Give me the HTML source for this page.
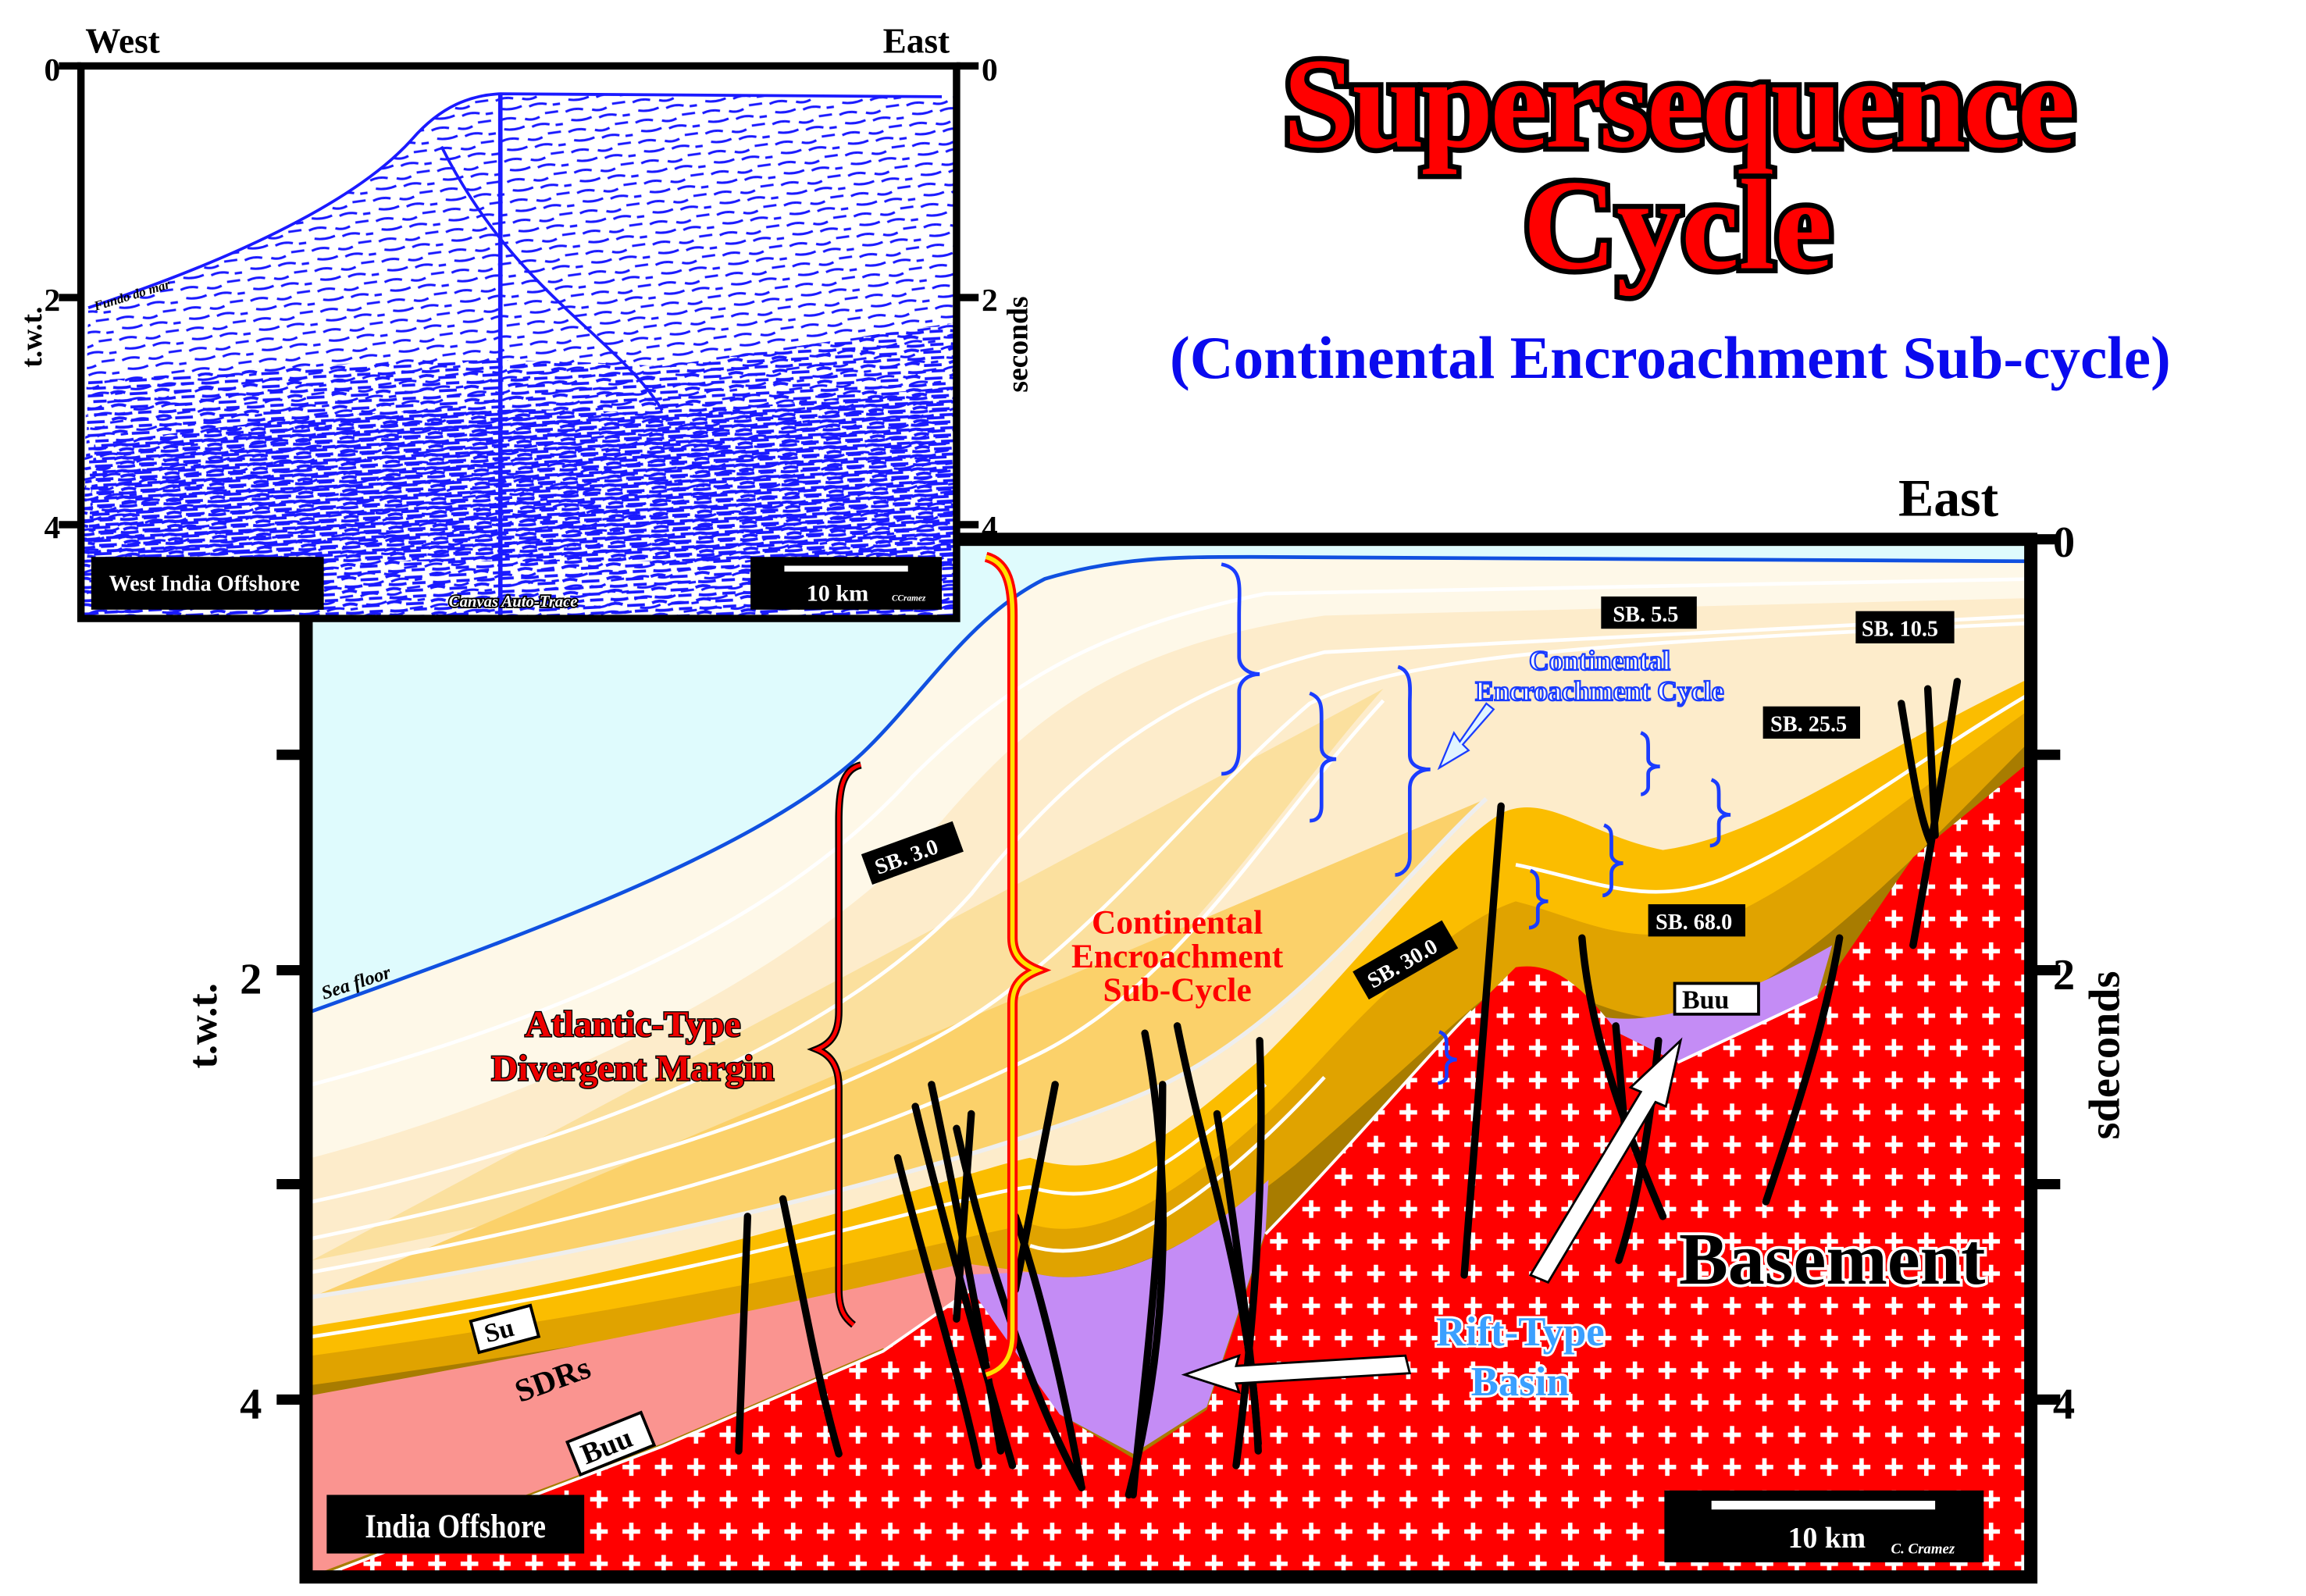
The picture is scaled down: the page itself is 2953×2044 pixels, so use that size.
<!DOCTYPE html>
<html><head><meta charset="utf-8"><style>
html,body{margin:0;padding:0;background:#fff;width:2953px;height:2044px;overflow:hidden}
svg{display:block}
text{font-family:"Liberation Serif",serif;font-weight:bold}
</style></head><body>
<svg width="2953" height="2044" viewBox="0 0 1567 1089" preserveAspectRatio="none" xmlns="http://www.w3.org/2000/svg">
<defs>
<pattern id="cross" width="22" height="22" patternUnits="userSpaceOnUse">
<rect width="22" height="22" fill="#f00"/>
<path d="M11,5 V17 M5,11 H17" stroke="#fff" stroke-width="3"/>
</pattern>
<pattern id="seis" width="46" height="14" patternUnits="userSpaceOnUse" patternTransform="rotate(-8)">
<path d="M2,3 q6,-2 12,0 M20,4 q5,2 10,0 M34,2 h9 M5,9 q7,2 14,0 M24,10 q6,-2 12,0 M40,11 h5" stroke="#1a1aff" stroke-width="1.6" fill="none"/>
</pattern>
<pattern id="seis2" width="30" height="9" patternUnits="userSpaceOnUse" patternTransform="rotate(-3)">
<path d="M1,2 q5,-2 10,0 M14,3 h12 M3,7 q6,1 12,0 M19,7 h9" stroke="#1a1aff" stroke-width="2" fill="none"/>
</pattern>
</defs>

<g text-anchor="middle">
<text x="1140" y="100" font-size="88" fill="#f00" stroke="#000" stroke-width="7" paint-order="stroke" style="letter-spacing:-2px">Supersequence</text>
<text x="1140" y="183" font-size="88" fill="#f00" stroke="#000" stroke-width="7" paint-order="stroke">Cycle</text>
<text x="1135" y="258" font-size="41" fill="#0a0aee">(Continental Encroachment Sub-cycle)</text>
</g>

<g>
<rect x="208" y="368" width="1172" height="708" fill="#dffbfd"/>
<clipPath id="mc"><rect x="208" y="368" width="1172" height="708"/></clipPath>
<g clip-path="url(#mc)">
<path d="M212,690 C350,640 520,580 590,510 C630,470 660,420 710,395 C760,380 800,380 850,380 L1385,383 L1385,1080 L205,1080 Z" fill="#fef8e8"/>
<path d="M212,790 C400,740 560,650 640,560 C700,490 760,440 900,420 L1385,408 L1385,1080 L205,1080 Z" fill="#fdeccb"/>
<path d="M212,860 C450,815 600,765 700,715 C800,670 860,560 940,470 C1000,440 1100,428 L1385,412 L1385,1080 L205,1080 Z" fill="#fbe09e"/>
<path d="M212,885 C500,840 700,780 780,745 C880,700 950,600 1010,545 C1040,530 1150,515 L1385,470 L1385,1080 L205,1080 Z" fill="#fbd16a"/>
<path d="M212,905 C500,860 650,800 700,790 C760,810 800,770 860,720 C930,650 980,580 1020,555 C1050,540 1080,570 1130,580 C1200,570 1260,520 1385,460 L1385,1080 L205,1080 Z" fill="#fbbd00"/>
<path d="M212,925 C500,885 650,845 700,835 C760,855 840,785 900,720 C960,655 1000,625 1030,615 C1070,625 1100,645 1150,635 C1220,612 1300,540 1385,480 L1385,1080 L205,1080 Z" fill="#e0a300"/>
<path d="M212,945 C500,905 650,870 700,868 C760,885 830,835 880,795 C960,725 1000,685 1030,665 C1070,675 1100,700 1150,695 C1230,665 1320,565 1385,500 L1385,1080 L205,1080 Z" fill="#a87c00"/>
<g fill="none" stroke="#fff" stroke-width="2.5">
<path d="M212,740 C400,690 540,620 620,530 C680,470 740,430 860,405 L1385,395"/>
<path d="M212,820 C420,775 580,700 660,610 C730,520 800,470 900,445 L1385,420"/>
<path d="M212,845 C430,800 600,740 680,680 C760,620 820,540 890,480 C950,450 1050,440 1385,425"/>
<path d="M212,868 C450,825 600,772 700,722 C800,675 860,565 940,478"/>
<path d="M212,912 C500,868 650,815 700,810 C760,828 800,790 860,740"/>
<path d="M700,850 C760,870 840,800 900,735 M1030,590 C1080,600 1120,620 1170,600 C1240,570 1300,520 1385,470"/>
<path d="M212,955 C400,920 560,885 650,868"/>
</g>
<path d="M212,885 C500,840 700,780 780,745 C880,700 950,600 1010,545 C1040,530 1150,515 L1385,470" fill="none" stroke="#eee" stroke-width="3"/>
<path d="M212,952 C400,918 560,885 655,862 L700,868 L720,950 L600,920 L450,985 L212,1075 Z" fill="#fa9490"/>
<path d="M650,870 L700,868 C760,885 830,835 862,805 L860,840 L820,960 L770,992 L720,965 Z" fill="#c48cf5"/>
<path d="M1075,690 C1100,700 1150,700 1245,645 L1235,680 L1140,725 L1100,705 Z" fill="#c48cf5"/>
<path d="M212,1078 L450,987 L600,922 L660,880 L720,965 L770,995 L820,962 L860,842 C920,780 970,720 1000,690 L1030,660 C1060,655 1080,680 1100,705 L1140,725 L1235,680 L1300,585 L1385,515 L1385,1080 L205,1080 Z" fill="url(#cross)"/>
<path d="M212,1078 L450,987 L600,922 L660,880 M860,842 C920,780 970,720 1000,690 M1140,725 L1235,680" fill="none" stroke="#fff" stroke-width="2"/>
<path d="M212,690 C350,640 520,580 590,510 C630,470 660,420 710,395 C760,380 800,380 850,380 L1385,383" fill="none" stroke="#1050e0" stroke-width="2.5"/>
<g fill="none" stroke="#000" stroke-width="5" stroke-linecap="round">
<path d="M508,830 L502,990"/>
<path d="M532,818 C545,880 555,940 570,992"/>
<path d="M610,790 C630,870 650,930 665,1000"/>
<path d="M622,755 C640,830 665,920 688,1000"/>
<path d="M633,740 C650,820 665,900 680,990"/>
<path d="M650,770 C670,860 700,950 735,1015"/>
<path d="M660,760 L650,900"/>
<path d="M717,740 L690,880"/>
<path d="M690,830 C710,890 725,960 735,1015"/>
<path d="M778,705 C800,820 790,930 767,1020"/>
<path d="M790,740 C790,860 775,960 770,1020"/>
<path d="M800,700 C820,800 850,880 855,990"/>
<path d="M827,760 C840,840 850,920 855,985"/>
<path d="M856,710 C860,820 850,920 840,1000"/>
<path d="M1020,550 L995,870"/>
<path d="M1075,640 C1080,700 1100,760 1130,830"/>
<path d="M1098,700 L1105,780"/>
<path d="M1127,710 C1120,780 1110,830 1100,860"/>
<path d="M1250,640 C1240,700 1220,760 1200,820"/>
<path d="M1292,480 C1300,530 1305,560 1312,575"/>
<path d="M1310,470 L1315,570"/>
<path d="M1330,465 C1320,530 1310,590 1300,645"/>
</g>
</g>
<rect x="208" y="368" width="1172" height="708" fill="none" stroke="#000" stroke-width="9"/>
<g stroke="#000" stroke-width="7">
<path d="M1380,368 H1400 M1380,515 H1400 M1380,662 H1400 M1380,808 H1400 M1380,955 H1400"/>
<path d="M188,515 H208 M188,662 H208 M188,808 H208 M188,955 H208"/>
</g>
<text x="1395" y="380" font-size="30">0</text>
<text x="1395" y="675" font-size="30">2</text>
<text x="1395" y="968" font-size="30">4</text>
<text x="163" y="678" font-size="30">2</text>
<text x="163" y="968" font-size="30">4</text>
<text x="1290" y="352" font-size="36">East</text>
<text transform="translate(147,700) rotate(-90)" font-size="28" text-anchor="middle">t.w.t.</text>
<text transform="translate(1440,720) rotate(-90)" font-size="30" text-anchor="middle">sdeconds</text>

<text transform="translate(220,682) rotate(-18)" font-size="13" font-style="italic" font-weight="normal">Sea floor</text>
<g font-size="15" fill="#fff">
<rect x="1088" y="407" width="65" height="22" fill="#000"/><text x="1096" y="424">SB. 5.5</text>
<rect x="1261" y="417" width="67" height="22" fill="#000"/><text x="1265" y="434">SB. 10.5</text>
<rect x="1198" y="482" width="66" height="22" fill="#000"/><text x="1203" y="499">SB. 25.5</text>
<rect x="1120" y="617" width="66" height="22" fill="#000"/><text x="1125" y="634">SB. 68.0</text>
<g transform="translate(955,655) rotate(-30)"><rect x="-35" y="-11" width="70" height="22" fill="#000"/><text x="-29" y="6">SB. 30.0</text></g>
<g transform="translate(620,582) rotate(-20)"><rect x="-33" y="-11" width="66" height="22" fill="#000"/><text x="-27" y="6">SB. 3.0</text></g>
</g>
<rect x="1138" y="671" width="57" height="21" fill="#fff" stroke="#000" stroke-width="2"/><text x="1143" y="688" font-size="18">Buu</text>
<g transform="translate(342,907) rotate(-15)"><rect x="-20" y="-11" width="42" height="22" fill="#fff" stroke="#000" stroke-width="2"/><text x="-13" y="6" font-size="18">Su</text></g>
<g transform="translate(415,985) rotate(-22)"><rect x="-27" y="-12" width="54" height="24" fill="#fff" stroke="#000" stroke-width="2"/><text x="-21" y="7" font-size="20">Buu</text></g>
<text transform="translate(378,948) rotate(-20)" font-size="22" text-anchor="middle">SDRs</text>

<g text-anchor="middle" fill="#e00" stroke="#000" stroke-width="1.5" paint-order="stroke" font-size="25">
<text x="430" y="707">Atlantic-Type</text>
<text x="430" y="737">Divergent Margin</text>
</g>
<g text-anchor="middle" fill="#f00" font-size="23">
<text x="800" y="637">Continental</text>
<text x="800" y="660">Encroachment</text>
<text x="800" y="683">Sub-Cycle</text>
</g>
<g text-anchor="middle" fill="#fff" stroke="#1a3cff" stroke-width="1.2" font-size="19">
<text x="1087" y="457">Continental</text>
<text x="1087" y="478">Encroachment Cycle</text>
</g>
<g text-anchor="middle" fill="#3aa0ff" stroke="#fff" stroke-width="3" paint-order="stroke" font-size="28">
<text x="1033" y="918">Rift-Type</text>
<text x="1033" y="952">Basin</text>
</g>
<text x="1245" y="876" font-size="50" text-anchor="middle" fill="#000" stroke="#fff" stroke-width="4" paint-order="stroke">Basement</text>

<path d="M955,925 L840,932 L842,925 L805,938 L842,950 L840,944 L958,937 Z" fill="#fff" stroke="#000" stroke-width="1.5"/>
<path d="M1040,870 L1115,745 L1108,742 L1142,710 L1132,755 L1125,752 L1052,875 Z" fill="#fff" stroke="#000" stroke-width="1.5"/>
<path d="M1010,480 L992,506 L988,500 L978,524 L998,512 L994,508 L1015,484 Z" fill="#e0f4ff" stroke="#1a3cff" stroke-width="1.2"/>

<g fill="none" stroke="#1a3cff" stroke-width="2.5">
<path d="M830,385 C845,388 842,400 842,420 L842,448 C842,455 848,460 856,460 C848,460 842,465 842,472 L842,510 C842,522 838,528 830,528"/>
<path d="M890,473 C898,476 898,482 898,490 L898,510 C898,515 902,518 908,518 C902,518 898,521 898,526 L898,550 C898,558 894,560 890,560"/>
<path d="M950,455 C960,458 958,470 958,480 L958,515 C958,522 964,525 972,525 C964,525 958,530 958,538 L958,585 C958,593 952,597 948,597"/>
<path d="M1115,500 C1120,502 1120,505 1120,510 L1120,518 C1120,521 1123,523 1128,523 C1123,523 1120,525 1120,528 L1120,537 C1120,540 1117,542 1115,542"/>
<path d="M1163,532 C1168,534 1168,537 1168,542 L1168,550 C1168,553 1171,556 1176,556 C1171,556 1168,558 1168,562 L1168,572 C1168,575 1165,577 1162,577"/>
<path d="M1090,563 C1095,565 1095,568 1095,573 L1095,583 C1095,586 1098,589 1103,589 C1098,589 1095,592 1095,596 L1095,605 C1095,608 1092,611 1089,611"/>
<path d="M1040,594 C1045,596 1045,600 1045,604 L1045,610 C1045,613 1048,615 1052,615 C1048,615 1045,617 1045,620 L1045,628 C1045,631 1042,633 1039,633"/>
<path d="M978,704 C983,706 983,709 983,713 L983,718 C983,721 986,723 990,723 C986,723 983,725 983,728 L983,734 C983,737 980,739 977,739"/>
</g>
<path d="M585,522 C572,525 570,540 570,560 L570,690 C570,705 565,712 555,716 C565,720 570,728 570,742 L570,880 C570,895 575,900 580,904" fill="none" stroke="#000" stroke-width="5"/>
<path d="M585,522 C572,525 570,540 570,560 L570,690 C570,705 565,712 555,716 C565,720 570,728 570,742 L570,880 C570,895 575,900 580,904" fill="none" stroke="#f00" stroke-width="2.5"/>
<path d="M670,380 C685,384 688,400 688,420 L688,640 C688,652 695,658 705,662 C695,666 688,672 688,685 L688,910 C688,928 680,935 670,938" fill="none" stroke="#f00" stroke-width="7"/>
<path d="M670,380 C685,384 688,400 688,420 L688,640 C688,652 695,658 705,662 C695,666 688,672 688,685 L688,910 C688,928 680,935 670,938" fill="none" stroke="#ffe000" stroke-width="3"/>

<rect x="222" y="1020" width="175" height="40" fill="#000"/>
<text x="248" y="1049" font-size="23" fill="#fff" transform="translate(248,0) scale(0.85,1) translate(-248,0)">India Offshore</text>
<rect x="1131" y="1017" width="217" height="49" fill="#000"/>
<rect x="1163" y="1024" width="152" height="6" fill="#fff"/>
<text x="1215" y="1056" font-size="20" fill="#fff">10 km</text>
<text x="1285" y="1060" font-size="10" fill="#fff" font-style="italic" font-weight="normal">C. Cramez</text>
</g>

<g>
<rect x="55" y="45" width="595" height="377" fill="#fff"/>
<clipPath id="ic"><rect x="57" y="47" width="591" height="373"/></clipPath>
<g clip-path="url(#ic)">
<path d="M60,210 C150,180 240,140 280,95 C300,72 320,65 340,64 L650,65 L650,425 L55,425 Z" fill="url(#seis)"/>
<path d="M60,260 C200,250 300,240 450,250 L650,220 L650,425 L55,425 Z" fill="url(#seis2)"/>
<path d="M60,300 C200,280 300,270 450,280 L650,260 L650,380 L55,380 Z" fill="url(#seis2)" transform="translate(4,3)"/>
<path d="M60,210 C150,180 240,140 280,95 C300,72 320,65 340,64 L640,66" fill="none" stroke="#1a1aff" stroke-width="2"/>
<path d="M340,64 L340,420" stroke="#1a1aff" stroke-width="3"/>
<path d="M300,100 C350,200 420,230 450,280" fill="none" stroke="#1a1aff" stroke-width="2"/>
</g>
<rect x="55" y="45" width="595" height="377" fill="none" stroke="#000" stroke-width="5"/>
<g stroke="#000" stroke-width="5"><path d="M40,45 H55 M40,203 H55 M40,358 H55 M650,45 H665 M650,203 H665 M650,358 H665"/></g>
<text x="30" y="55" font-size="22">0</text><text x="30" y="212" font-size="22">2</text><text x="30" y="367" font-size="22">4</text>
<text x="667" y="55" font-size="22">0</text><text x="667" y="212" font-size="22">2</text><text x="667" y="367" font-size="22">4</text>
<text x="58" y="36" font-size="24">West</text><text x="600" y="36" font-size="24">East</text>
<text transform="translate(28,230) rotate(-90)" font-size="20" text-anchor="middle">t.w.t.</text>
<text transform="translate(698,235) rotate(-90)" font-size="20" text-anchor="middle">seconds</text>
<text transform="translate(65,212) rotate(-17)" font-size="9" font-style="italic">Fundo do mar</text>
<rect x="62" y="380" width="158" height="36" fill="#000"/>
<text x="74" y="403" font-size="15" fill="#fff">West India Offshore</text>
<rect x="510" y="380" width="130" height="36" fill="#000"/>
<rect x="533" y="386" width="84" height="4" fill="#fff"/>
<text x="548" y="410" font-size="16" fill="#fff">10 km</text>
<text x="606" y="410" font-size="6" fill="#fff" font-style="italic">CCramez</text>
<text x="305" y="414" font-size="11" font-style="italic" fill="#fff" stroke="#000" stroke-width="2" paint-order="stroke">Canvas Auto-Trace</text>
</g>
</svg>
</body></html>
